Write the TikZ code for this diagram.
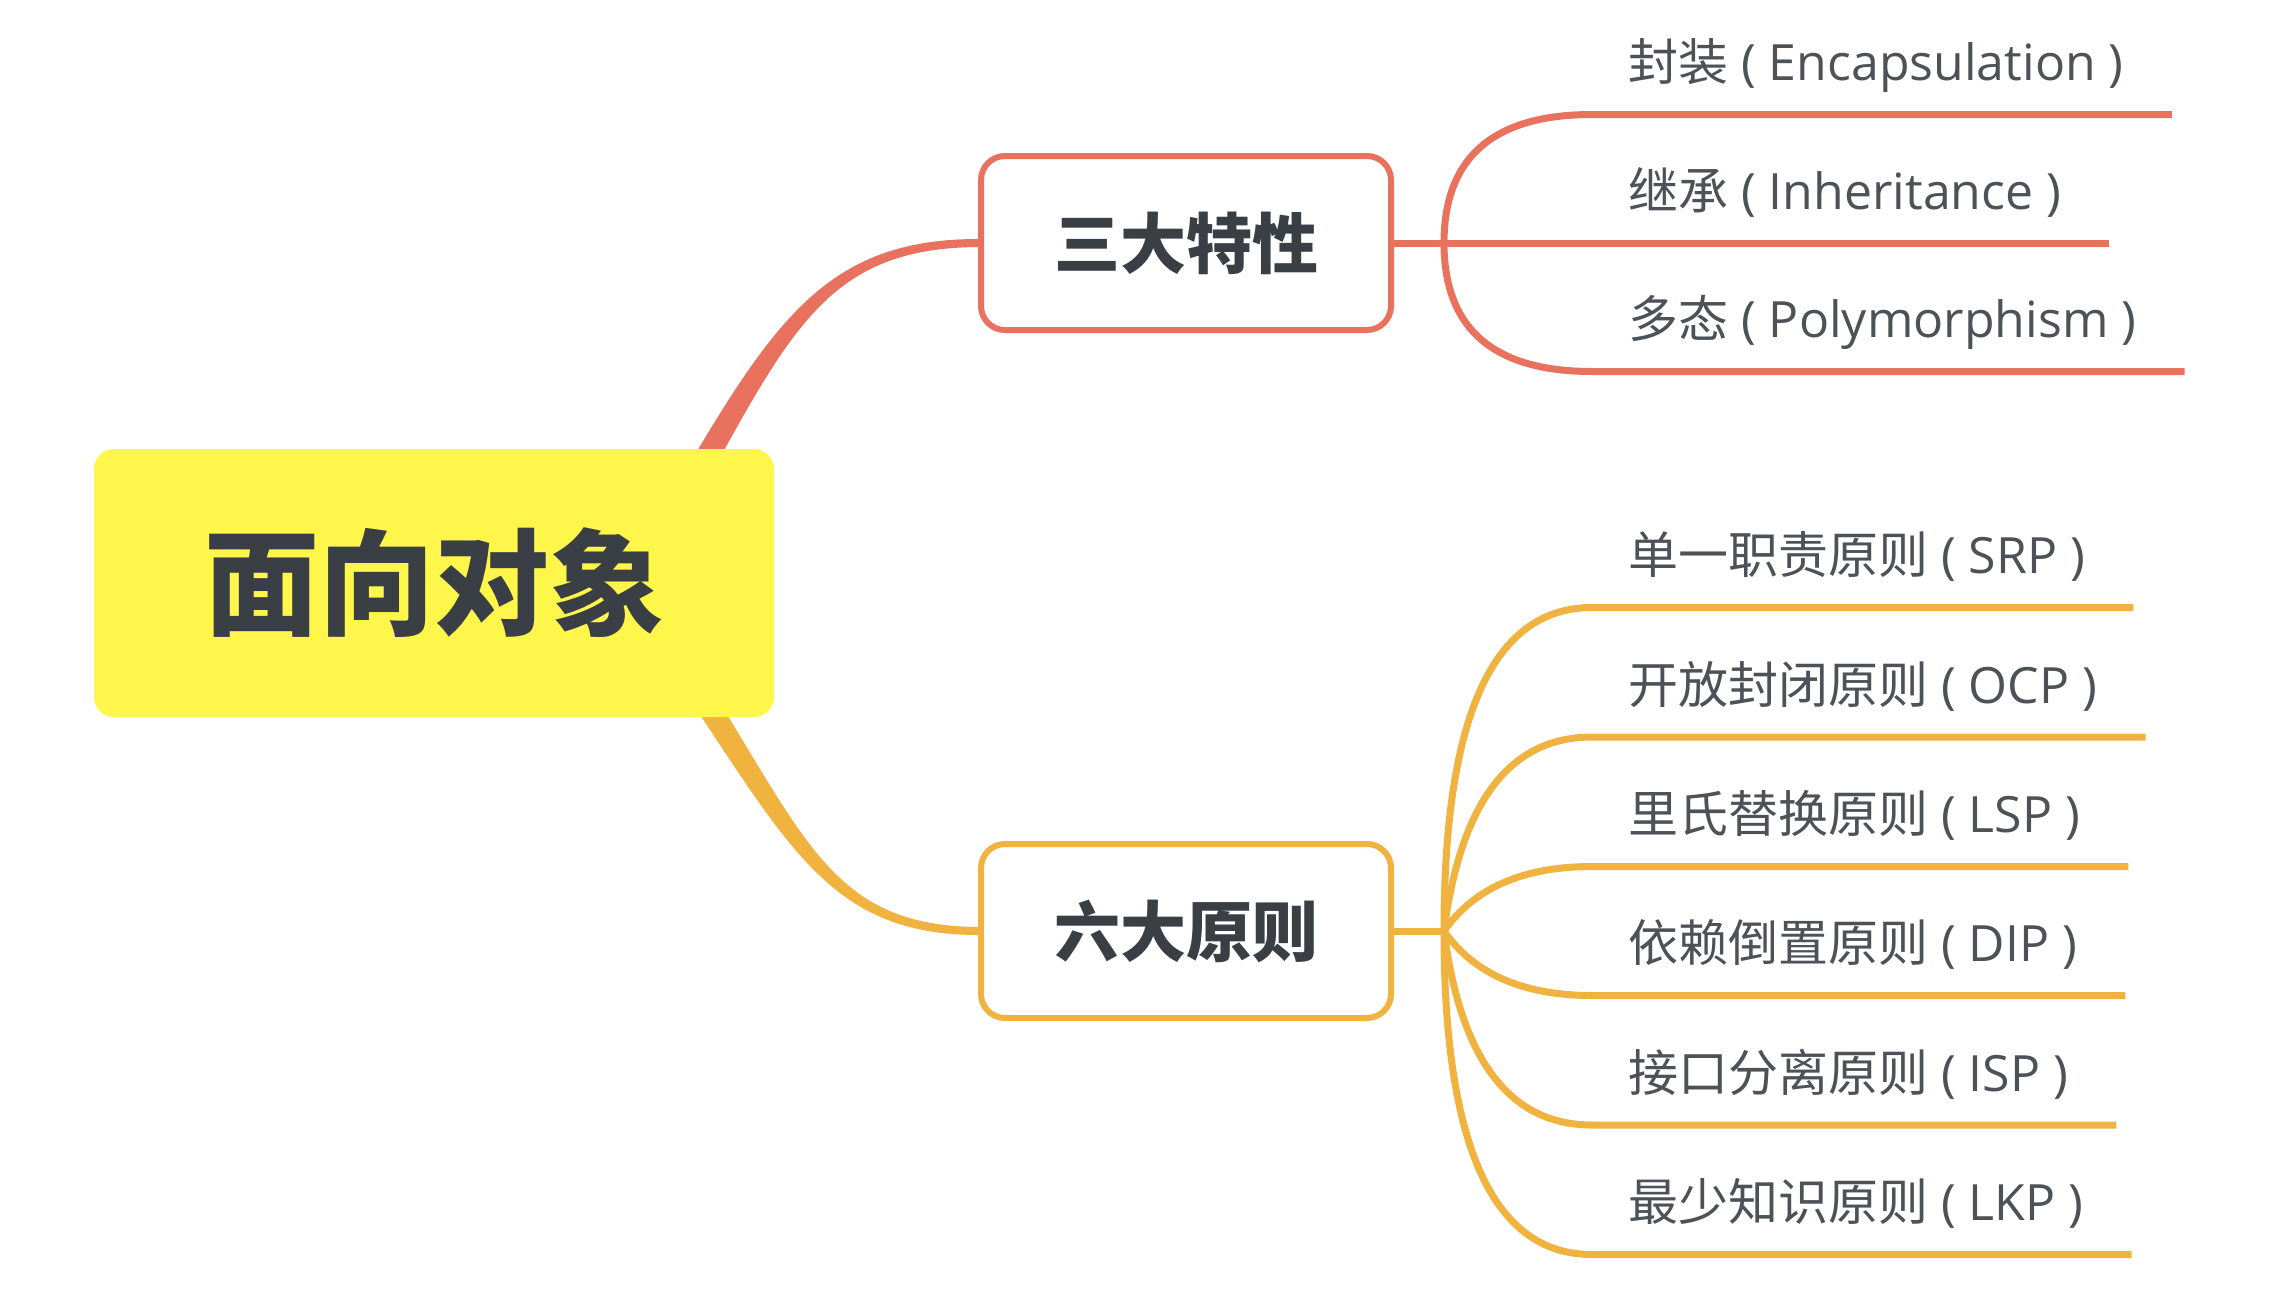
\documentclass[tikz,border=0pt]{standalone}
\usepackage{fontspec}
\setmainfont{Open Sans}
\newfontfamily\cjk{Noto Sans CJK SC}
\usetikzlibrary{calc,backgrounds}
\definecolor{redc}{HTML}{E8725E}
\definecolor{orgc}{HTML}{F0B33F}
\definecolor{yelc}{HTML}{FFF64C}
\definecolor{txtc}{HTML}{3A3F46}
\definecolor{labc}{HTML}{4D5258}
\begin{document}
\begin{tikzpicture}[x=1pt,y=-1pt,
  rootbox/.style={fill=yelc, rounded corners=20pt, minimum width=680pt, minimum height=268pt, inner sep=0pt, font=\cjk\bfseries\fontsize{115}{115}\selectfont, text=txtc},
  subbox/.style={fill=white, line width=6pt, rounded corners=24pt, minimum width=410pt, minimum height=174pt, inner sep=0pt, font=\cjk\bfseries\fontsize{66}{66}\selectfont, text=txtc},
  leaf/.style={anchor=base west, inner sep=0pt, font=\fontsize{50}{60}\selectfont, text=labc},
  branch/.style={line width=7pt, line cap=butt},
]
\useasboundingbox (0,0) rectangle (2272,1290);
% nodes
\node[rootbox] (root) at (434,583) {面向对象};
\node[subbox, draw=redc] (tri) at (1186,243) {三大特性};
\node[subbox, draw=orgc] (six) at (1186,931) {六大原则};
% leaves
\node[leaf] (l1) at (1628,80.5) {{\cjk 封装} ( Encapsulation )};
\node[leaf] (l2) at (1628,209) {{\cjk 继承} ( Inheritance )};
\node[leaf] (l3) at (1628,337.5) {{\cjk 多态} ( Polymorphism )};
\node[leaf] (m1) at (1628,573.5) {{\cjk 单一职责原则} ( SRP )};
\node[leaf] (m2) at (1628,703) {{\cjk 开放封闭原则} ( OCP )};
\node[leaf] (m3) at (1628,832.5) {{\cjk 里氏替换原则} ( LSP )};
\node[leaf] (m4) at (1628,961.5) {{\cjk 依赖倒置原则} ( DIP )};
\node[leaf] (m5) at (1628,1091) {{\cjk 接口分离原则} ( ISP )};
\node[leaf] (m6) at (1628,1220.5) {{\cjk 最少知识原则} ( LKP )};
% helper coordinates
\coordinate (j1) at ($(tri.east)+(50,0)$);
\coordinate (j2) at ($(six.east)+(50,0)$);
\foreach \n in {l1,l2,l3,m1,m2,m3,m4,m5,m6}{
  \coordinate (\n s) at ($(\n.base west)+(-36,34)$);
  \coordinate (\n e) at ($(\n.base east)+(48,34)$);
}
\begin{scope}[on background layer]
\fill[white] (0,0) rectangle (2272,1290);
% tapered main connectors
\fill[redc] ($(root.north east)+(-89.4,23.1)$) .. controls ($(root.north east)+(4,-136)$) and ($(tri.west)+(-145,-4.5)$) .. ($(tri.west)+(2,-4)$)
  -- ($(tri.west)+(2,4)$) .. controls ($(tri.west)+(-145,4.5)$) and ($(root.north east)+(20,-126)$) .. ($(root.north east)+(-68.6,34.9)$) -- cycle;
\fill[orgc] ($(root.south east)+(-71.1,-41.3)$) .. controls ($(root.south east)+(33,124)$) and ($(six.west)+(-145,-4.5)$) .. ($(six.west)+(2,-4)$)
  -- ($(six.west)+(2,4)$) .. controls ($(six.west)+(-145,4.5)$) and ($(root.south east)+(17,134)$) .. ($(root.south east)+(-90.9,-27.7)$) -- cycle;
% top group branches
\coordinate (cl1) at (j1 |- l1s);
\coordinate (cl3) at (j1 |- l3s);
\draw[branch, redc] (tri.east) -- (l2e);
\draw[branch, redc] (j1) .. controls ($(j1)!2/3!(cl1)$) and ($(l1s)!2/3!(cl1)$) .. (l1s) -- (l1e);
\draw[branch, redc] (j1) .. controls ($(j1)!2/3!(cl3)$) and ($(l3s)!2/3!(cl3)$) .. (l3s) -- (l3e);
% bottom group branches
\coordinate (cm1) at ($(j2 |- m1s)+(0,0)$);
\coordinate (cm2) at ($(j2 |- m2s)+(25,0)$);
\coordinate (cm3) at ($(j2 |- m3s)+(45,0)$);
\coordinate (cm4) at ($(j2 |- m4s)+(45,0)$);
\coordinate (cm5) at ($(j2 |- m5s)+(25,0)$);
\coordinate (cm6) at ($(j2 |- m6s)+(0,0)$);
\draw[branch, orgc] (six.east) -- (j2);
\foreach \n in {m1,m2,m3,m4,m5,m6}{
  \draw[branch, orgc] (j2) .. controls ($(j2)!2/3!(c\n)$) and ($(\n s)!2/3!(c\n)$) .. (\n s) -- (\n e);
}
\end{scope}
\end{tikzpicture}
\end{document}
